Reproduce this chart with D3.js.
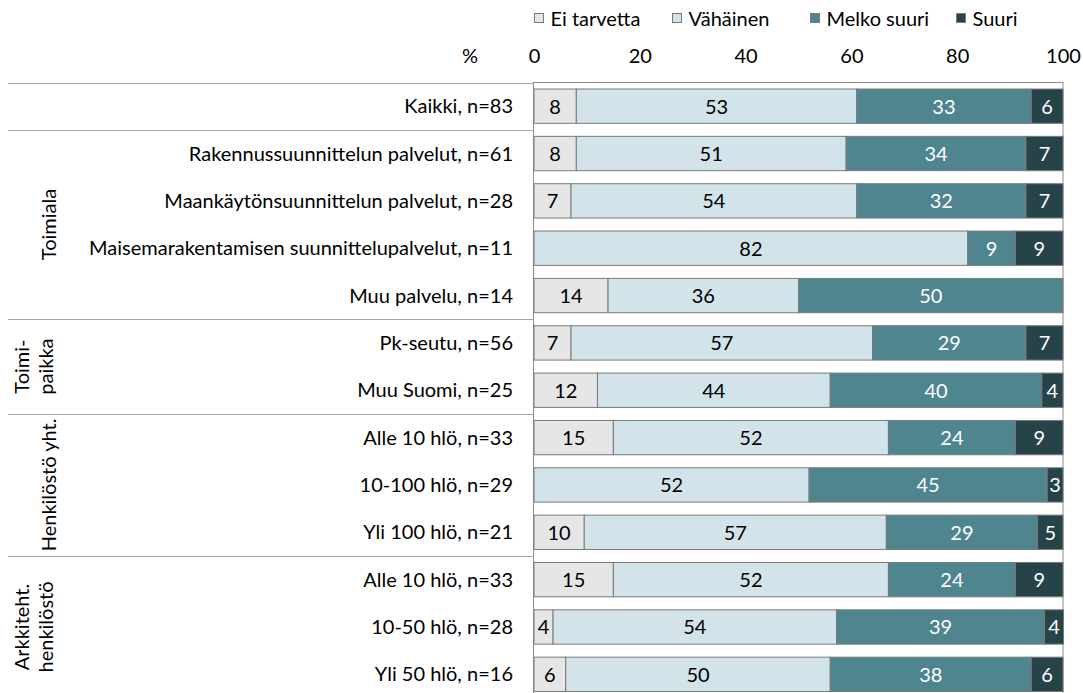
<!DOCTYPE html>
<html><head><meta charset="utf-8">
<script src="https://cdn.jsdelivr.net/npm/d3@7"></script>
<style>
body{margin:0;background:#fff}
svg{display:block}
text{font-family:Lato, "Open Sans", sans-serif}
</style>
</head><body>
<svg id="chart" width="1083" height="693"></svg>
<script>
// ---- data ----
const categories = [
  "Kaikki, n=83",
  "Rakennussuunnittelun palvelut, n=61",
  "Maankäytönsuunnittelun palvelut, n=28",
  "Maisemarakentamisen suunnittelupalvelut, n=11",
  "Muu palvelu, n=14",
  "Pk-seutu, n=56",
  "Muu Suomi, n=25",
  "Alle 10 hlö, n=33",
  "10-100 hlö, n=29",
  "Yli 100 hlö, n=21",
  "Alle 10 hlö, n=33",
  "10-50 hlö, n=28",
  "Yli 50 hlö, n=16"
];
const seriesNames = ["Ei tarvetta", "Vähäinen", "Melko suuri", "Suuri"];
const eiTarvetta = [8, 8, 7, 0, 14, 7, 12, 15, 0, 9.5, 15, 3.6, 6];
const vahainen   = [53, 51, 54, 82, 36, 57, 44, 52, 52, 57.1, 52, 53.6, 50];
const melkoSuuri = [33, 34, 32, 9, 50, 29, 40, 24, 45, 28.6, 24, 39.3, 38];
const suuri      = [6, 7, 7, 9, 0, 7, 4, 9, 3, 4.8, 9, 3.6, 6];
const groupLabels = [["Toimiala"], ["Toimi-", "paikka"], ["Henkilöstö yht."], ["Arkkiteht.", "henkilöstö"]];
const groupStart = [1, 5, 7, 10];
const groupEnd   = [4, 6, 9, 12];
const tickValues = [0, 20, 40, 60, 80, 100];
const axisUnit = "%";

// ---- styles ----
const colors = ["#e6e6e6", "#d3e3ea", "#4e858f", "#27434a"];
const labelColors = ["#000", "#000", "#fff", "#fff"];
const FS = 20;

const svg = d3.select("#chart");
const x = d3.scaleLinear().domain([0, 100]).range([534, 1063]);
const y = d3.scaleBand().domain(d3.range(categories.length)).range([82.5, 698])
  .paddingInner(0.275).paddingOuter(0.1375);

const rows = categories.map((c, i) => {
  const vals = [eiTarvetta[i], vahainen[i], melkoSuuri[i], suuri[i]];
  let acc = 0;
  return vals.map((v, k) => { const s = {row: i, k, v, x0: acc, x1: acc + v}; acc += v; return s; });
});
const segs = rows.flat().filter(d => d.v > 0);

// plot frame
svg.append("rect").attr("x", 533.5).attr("y", 82.5)
  .attr("width", x(100) - 533.5).attr("height", 620)
  .attr("fill", "none").attr("stroke", "#8c8c8c").attr("stroke-width", 1);

// separators on left
const sepYs = [y.range()[0]].concat(groupStart.map(g => y(g) - y.step() * y.paddingInner() / 2));
svg.selectAll("line.sep").data(sepYs).join("line").attr("class", "sep")
  .attr("x1", 8).attr("x2", 533.5)
  .attr("y1", d => Math.round(d) + 0.5).attr("y2", d => Math.round(d) + 0.5)
  .attr("stroke", "#a6a6a6").attr("stroke-width", 1);

// bars
svg.append("g").selectAll("rect").data(segs).join("rect")
  .attr("x", d => x(d.x0)).attr("width", d => x(d.x1) - x(d.x0))
  .attr("y", d => y(d.row)).attr("height", y.bandwidth())
  .attr("fill", d => colors[d.k]).attr("stroke", "#7a7a7a").attr("stroke-width", 1);

// value labels
svg.append("g").selectAll("text").data(segs).join("text")
  .attr("x", d => (x(d.x0) + x(d.x1)) / 2)
  .attr("y", d => y(d.row) + y.bandwidth() / 2)
  .attr("dy", "0.37em").attr("text-anchor", "middle")
  .attr("font-size", FS).attr("fill", d => labelColors[d.k])
  .text(d => d3.format(".0f")(d.v));

// category labels
svg.append("g").selectAll("text").data(categories).join("text")
  .attr("x", 513).attr("y", (d, i) => y(i) + y.bandwidth() / 2)
  .attr("dy", "0.35em").attr("text-anchor", "end")
  .attr("font-size", FS).attr("fill", "#000").text(d => d);

// group labels (rotated)
groupLabels.forEach((lines, gi) => {
  const top = y(groupStart[gi]) - y.step() * y.paddingInner() / 2;
  const bot = y(groupEnd[gi]) + y.bandwidth() + y.step() * y.paddingInner() / 2;
  const cy = (top + bot) / 2;
  const baseX = lines.length === 1 ? [56] : [29, 53];
  lines.forEach((t, li) => {
    svg.append("text")
      .attr("transform", `translate(${baseX[li]},${cy}) rotate(-90)`)
      .attr("text-anchor", "middle").attr("font-size", FS).attr("fill", "#000")
      .text(t);
  });
});

// top axis
const axisG = svg.append("g").attr("transform", "translate(0,62.5)")
  .call(d3.axisTop(x).tickValues(tickValues).tickSize(0).tickPadding(0));
axisG.select(".domain").remove();
axisG.selectAll("text").attr("font-size", FS).attr("font-family", "Lato, sans-serif").attr("fill", "#000");
svg.append("text").attr("x", 470).attr("y", 62.5).attr("text-anchor", "middle")
  .attr("font-size", FS).text(axisUnit);

// legend
const legX = [534, 672, 810, 956];
const leg = svg.append("g").selectAll("g").data(seriesNames).join("g")
  .attr("transform", (d, i) => `translate(${legX[i]},0)`);
leg.append("rect").attr("x", 0.5).attr("y", 13.5).attr("width", 9).attr("height", 9)
  .attr("fill", (d, i) => colors[i]).attr("stroke", "#7a7a7a").attr("stroke-width", 1);
leg.append("text").attr("x", 16.5).attr("y", 25.5).attr("font-size", FS).text(d => d);
</script>
</body></html>
